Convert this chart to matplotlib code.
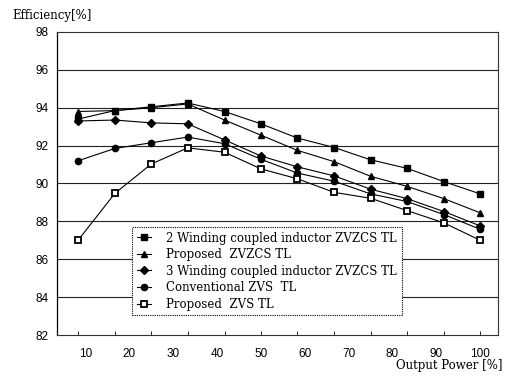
import matplotlib
matplotlib.use("Agg")
import matplotlib.pyplot as plt

# output power [%] at each measured point
power = [8.3, 16.7, 25, 33.3, 41.7, 50, 58.3, 66.7, 75, 83.3, 91.7, 100]
tick_labels = [10, 20, 30, 40, 50, 60, 70, 80, 90, 100]

# efficiency [%]
two_winding = [93.4, 93.85, 94.05, 94.25, 93.8, 93.15, 92.4, 91.9, 91.25, 90.8, 90.1, 89.45]
prop_zvzcs = [93.8, 93.85, 94.0, 94.2, 93.35, 92.55, 91.75, 91.15, 90.38, 89.85, 89.2, 88.45]
three_winding = [93.3, 93.35, 93.2, 93.15, 92.3, 91.45, 90.88, 90.4, 89.7, 89.2, 88.52, 87.76]
conv_zvs = [91.2, 91.85, 92.15, 92.45, 92.1, 91.28, 90.55, 90.12, 89.45, 89.05, 88.36, 87.58]
prop_zvs = [87.0, 89.48, 91.03, 91.88, 91.65, 90.77, 90.25, 89.53, 89.22, 88.57, 87.92, 87.0]

names = ['2 Winding coupled inductor ZVZCS TL',
         'Proposed  ZVZCS TL',
         '3 Winding coupled inductor ZVZCS TL',
         'Conventional ZVS  TL',
         'Proposed  ZVS TL']

fig = plt.figure(figsize=(5.09, 3.76), dpi=100)
ax = fig.add_axes([0.112, 0.109, 0.866, 0.806])

serif = 'DejaVu Serif'
sans = 'Liberation Sans'

# horizontal grid
for g in [84, 86, 88, 90, 92, 94, 96]:
    ax.axhline(g, color='#222222', lw=0.8, zorder=0)

kw = dict(color='black', lw=0.8)
ax.plot(power, two_winding, marker='s', ms=4.5, label=names[0], **kw)
ax.plot(power, prop_zvzcs, marker='^', ms=5, label=names[1], **kw)
ax.plot(power, three_winding, marker='D', ms=4, label=names[2], **kw)
ax.plot(power, conv_zvs, marker='o', ms=4.5, label=names[3], **kw)
ax.plot(power, prop_zvs, marker='s', ms=4.5, mfc='white', mec='black', mew=1.3,
        label=names[4], **kw)

ax.set_xlim(3.5, 104)
ax.set_ylim(82, 98)

# tick marks at the measurement points, labels at 10..100
ax.xaxis.remove_overlapping_locs = False
ax.set_xticks(power)
ax.set_xticklabels([])
ax.tick_params(axis='x', which='major', direction='in', length=3, width=0.6)
ax.set_xticks(tick_labels, minor=True)
ax.set_xticklabels([str(t) for t in tick_labels], minor=True, fontfamily=sans,
                   fontsize=8.5)
ax.tick_params(axis='x', which='minor', length=0, pad=9)

ax.set_yticks(range(82, 99, 2))
ax.set_yticklabels([str(v) for v in range(82, 99, 2)], fontfamily=sans, fontsize=8.5)
ax.tick_params(axis='y', length=0, pad=6)

for s in ['top', 'right', 'bottom']:
    ax.spines[s].set_linestyle((0, (1, 1)))
    ax.spines[s].set_linewidth(0.8)
    ax.spines[s].set_color('#333333')
ax.spines['left'].set_linewidth(0.9)

fig.text(0.024, 0.958, 'Efficiency[%]', fontfamily=serif, fontsize=8.5, va='center')
fig.text(0.988, 0.028, 'Output Power [%]', fontfamily=serif, fontsize=8.5,
         ha='right', va='center')

leg = ax.legend(loc='upper left', bbox_to_anchor=(0.170, 0.357), borderaxespad=0,
                fancybox=False, edgecolor='black', framealpha=1,
                prop={'family': serif, 'size': 8.5}, handlelength=1.2,
                handletextpad=1.3, labelspacing=0.3, borderpad=0.4)
leg.get_frame().set_linewidth(0.8)
leg.get_frame().set_linestyle((0, (1, 1)))

fig.savefig('out.png', dpi=100)
